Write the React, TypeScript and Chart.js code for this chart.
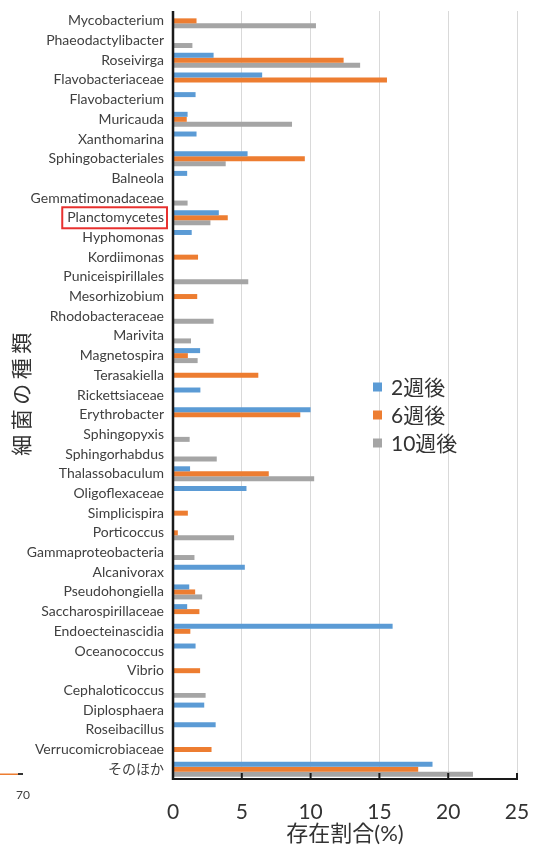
import React, { useEffect, useRef } from "react";
import { Chart, registerables } from "chart.js";

Chart.register(...registerables);

const categories = [
  "Mycobacterium", "Phaeodactylibacter", "Roseivirga", "Flavobacteriaceae", "Flavobacterium",
  "Muricauda", "Xanthomarina", "Sphingobacteriales", "Balneola", "Gemmatimonadaceae",
  "Planctomycetes", "Hyphomonas", "Kordiimonas", "Puniceispirillales", "Mesorhizobium",
  "Rhodobacteraceae", "Marivita", "Magnetospira", "Terasakiella", "Rickettsiaceae",
  "Erythrobacter", "Sphingopyxis", "Sphingorhabdus", "Thalassobaculum", "Oligoflexaceae",
  "Simplicispira", "Porticoccus", "Gammaproteobacteria", "Alcanivorax", "Pseudohongiella",
  "Saccharospirillaceae", "Endoecteinascidia", "Oceanococcus", "Vibrio", "Cephaloticoccus",
  "Diplosphaera", "Roseibacillus", "Verrucomicrobiaceae", "そのほか",
];

const seriesLabels = ["2週後", "6週後", "10週後"];

const week2 = [
  null, null, 2.95, 6.48, 1.64,
  1.06, 1.71, 5.42, 1.03, null,
  3.33, 1.36, null, null, null,
  null, null, 1.97, null, 1.99,
  10.0, null, null, 1.24, 5.34,
  null, null, null, 5.22, 1.18,
  1.03, 15.96, 1.64, null, null,
  2.27, 3.1, null, 18.86,
];

const week6 = [
  1.71, null, 12.4, 15.55, null,
  1.0, null, 9.58, null, null,
  3.98, null, 1.82, null, 1.76,
  null, null, 1.08, 6.2, null,
  9.25, null, null, 6.96, null,
  1.08, 0.35, null, null, 1.61,
  1.92, 1.26, null, 1.97, null,
  null, null, 2.8, 17.82,
];

const week10 = [
  10.39, 1.41, 13.6, null, null,
  8.65, null, 3.83, null, 1.06,
  2.72, null, null, 5.47, null,
  2.95, 1.31, 1.79, null, null,
  null, 1.21, 3.18, 10.26, null,
  null, 4.44, 1.56, null, 2.12,
  null, null, null, null, 2.37,
  null, null, null, 21.8,
];

const xTicks = [0, 5, 10, 15, 20, 25];
const xTitle = "存在割合(%)";
const yTitle = "細菌の種類";
const highlighted = "Planctomycetes";
const strayLabel = "70";

const COLORS = ["#5B9BD5", "#ED7D31", "#A5A5A5"];
const FONT = "Lato, 'Noto Sans CJK JP', sans-serif";
const TEXT = "#404040";
const LABEL_SIZE = 14;

const decor = {
  id: "decor",
  afterDatasetsDraw(chart: any) {
    const { ctx, chartArea, scales } = chart;
    const x = scales.x;
    ctx.save();
    ctx.strokeStyle = "#1a1a1a";
    ctx.lineWidth = 2.5;
    ctx.beginPath();
    ctx.moveTo(chartArea.left, chartArea.top);
    ctx.lineTo(chartArea.left, chartArea.bottom + 1);
    ctx.stroke();
    ctx.lineWidth = 2;
    ctx.beginPath();
    ctx.moveTo(chartArea.left - 1, chartArea.bottom);
    ctx.lineTo(chartArea.right + 1, chartArea.bottom);
    ctx.stroke();
    xTicks.forEach((v) => {
      const px = x.getPixelForValue(v);
      ctx.beginPath();
      ctx.moveTo(px, chartArea.bottom);
      ctx.lineTo(px, chartArea.bottom - 6);
      ctx.stroke();
    });
    ctx.restore();
  },
  afterDraw(chart: any) {
    const { ctx, chartArea, scales } = chart;
    const y = scales.y;
    ctx.save();

    // legend
    chart.data.datasets.forEach((ds: any, i: number) => {
      const cy = 387 + i * 28;
      ctx.fillStyle = ds.backgroundColor;
      ctx.fillRect(373, cy - 4.5, 9, 9);
      ctx.fillStyle = "#333";
      ctx.font = `21px ${FONT}`;
      ctx.textAlign = "left";
      ctx.textBaseline = "middle";
      ctx.fillText(ds.label, 391, cy + 1);
    });

    // y axis title
    ctx.save();
    ctx.translate(22, 394);
    ctx.rotate(-Math.PI / 2);
    ctx.fillStyle = "#333";
    ctx.font = `21px ${FONT}`;
    (ctx as any).letterSpacing = "4.5px";
    ctx.textAlign = "center";
    ctx.textBaseline = "middle";
    ctx.fillText(yTitle, 2, 0);
    ctx.restore();

    // highlight box
    const idx = categories.indexOf(highlighted);
    const cy = y.getPixelForValue(idx);
    ctx.font = `${LABEL_SIZE}px ${FONT}`;
    const w = ctx.measureText(highlighted).width;
    const labelRight = chartArea.left - 9;
    ctx.strokeStyle = "#E8312F";
    ctx.lineWidth = 2;
    ctx.strokeRect(labelRight - w - 5, cy - 10.5, w + 8, 21);

    // stray fragment at the left edge
    ctx.fillStyle = "#ED7D31";
    ctx.fillRect(0, 773.5, 18, 1.5);
    ctx.fillStyle = "#333";
    ctx.fillRect(18, 773, 5, 2);
    ctx.fillStyle = TEXT;
    ctx.font = `12px ${FONT}`;
    ctx.textAlign = "center";
    ctx.textBaseline = "middle";
    ctx.fillText(strayLabel, 23, 795);

    ctx.restore();
  },
};

export default function App() {
  const ref = useRef<HTMLCanvasElement | null>(null);

  useEffect(() => {
    if (!ref.current) return;
    const series = [week2, week6, week10];
    const chart = new Chart(ref.current, {
      type: "bar",
      data: {
        labels: categories,
        datasets: series.map((d, i) => ({
          label: seriesLabels[i],
          data: d,
          backgroundColor: COLORS[i],
          borderWidth: 0,
          barPercentage: 1,
          categoryPercentage: 0.76,
        })),
      },
      options: {
        indexAxis: "y",
        animation: false,
        responsive: false,
        maintainAspectRatio: false,
        layout: { padding: { top: 11, right: 26, left: 0, bottom: 0 } },
        plugins: {
          legend: { display: false },
          tooltip: { enabled: false },
        },
        scales: {
          x: {
            type: "linear",
            min: 0,
            max: 25,
            afterFit: (s: any) => {
              s.height = 68;
              s.paddingLeft = 0;
              s.paddingRight = 0;
            },
            ticks: {
              stepSize: 5,
              padding: 21,
              color: "#333",
              font: { family: FONT, size: 21 },
            },
            grid: { color: "#D9D9D9", lineWidth: 1, drawTicks: false },
            border: { display: false },
            title: {
              display: true,
              text: xTitle,
              color: "#333",
              font: { family: FONT, size: 22 },
              padding: { top: 0, bottom: 0 },
            },
          },
          y: {
            type: "category",
            afterFit: (s: any) => {
              s.width = 173;
              s.paddingTop = 0;
              s.paddingBottom = 0;
            },
            ticks: {
              autoSkip: false,
              padding: 9,
              color: TEXT,
              font: { family: FONT, size: LABEL_SIZE },
            },
            grid: { display: false, drawTicks: false },
            border: { display: false },
          },
        },
      },
      plugins: [decor],
    });
    return () => chart.destroy();
  }, []);

  return (
    <div style={{ position: "absolute", left: 0, top: 0, width: 543, height: 847, background: "#fff" }}>
      <canvas ref={ref} width={543} height={847} style={{ display: "block" }} />
    </div>
  );
}
